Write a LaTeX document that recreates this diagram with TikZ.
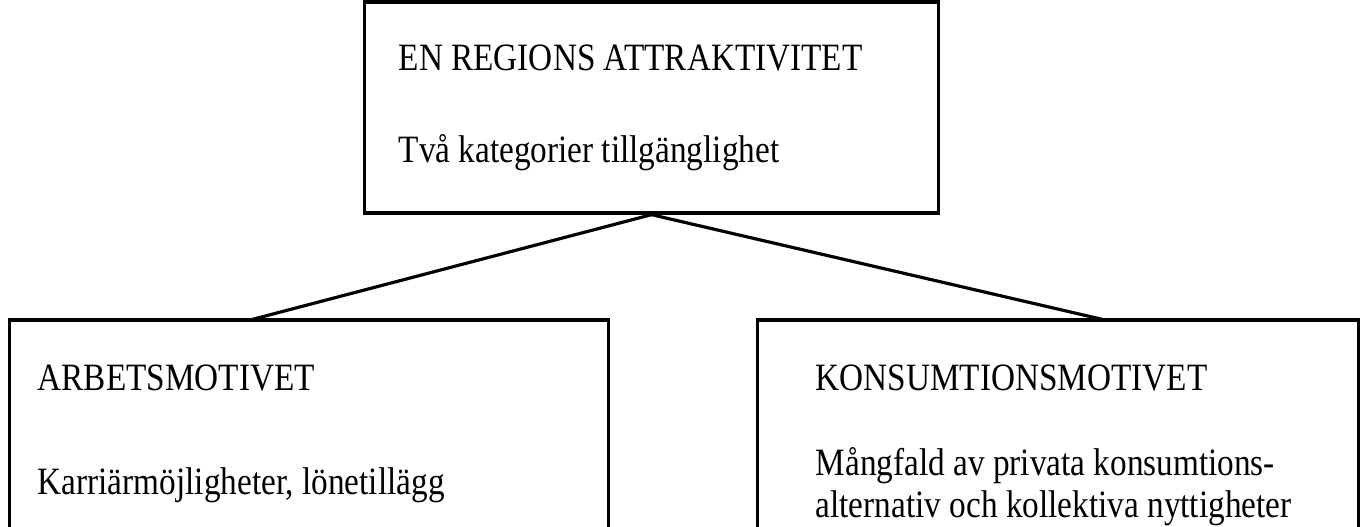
\documentclass[tikz,border=0pt]{standalone}
\usepackage{fontspec}
\setmainfont{Liberation Serif}[FakeStretch=0.86]
\usetikzlibrary{positioning}
\tikzset{>=latex}

\begin{document}
\begin{tikzpicture}[x=0.01cm,y=-0.01cm,
  box/.style={draw,line width=0.9pt,rectangle,inner sep=0pt},
  txt/.style={anchor=base west,inner sep=0pt,font=\fontsize{11}{12}\selectfont}]
\useasboundingbox (0,0) rectangle (1368,526);
% top box
\node[box,minimum width=5.73cm,minimum height=2.11cm] (attr) at (651.5,107.5) {};
\node[txt] (attrhead) at (398,70) {EN REGIONS ATTRAKTIVITET};
\node[txt] (attrsub) at (398,162) {Två kategorier tillgänglighet};
% the two motives
\node[box,minimum width=5.98cm,minimum height=2.4cm] (arb) at (309,440) {};
\node[txt] (arbhead) at (37,390) {ARBETSMOTIVET};
\node[txt] (arbsub) at (37,494) {Karriärmöjligheter, lönetillägg};
\node[box,minimum width=6cm,minimum height=2.4cm] (kons) at (1058,440) {};
\node[txt] (konshead) at (815,390) {KONSUMTIONSMOTIVET};
\node[txt,align=left,anchor=north west] (konssub) at (815,447)
  {Mångfald av privata konsumtions-\\alternativ och kollektiva nyttigheter};
\coordinate (arbtop) at (250,320);
\coordinate (konstop) at (1105,320);
\draw[line width=0.9pt] (attr.south) -- (arbtop);
\draw[line width=0.9pt] (attr.south) -- (konstop);
\end{tikzpicture}
\end{document}
